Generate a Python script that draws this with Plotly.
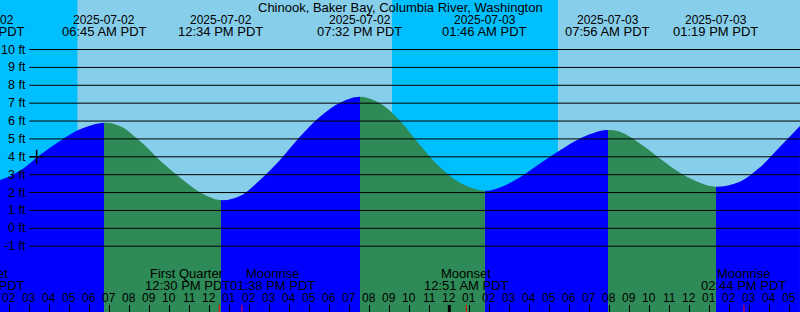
import pandas as pd
import plotly.graph_objects as go

TITLE = "Chinook, Baker Bay, Columbia River, Washington"

# Tide curve (time, feet)
curve_times = [
    "2025-07-02 00:41", "2025-07-02 01:32", "2025-07-02 02:32", "2025-07-02 03:32",
    "2025-07-02 04:32", "2025-07-02 05:32", "2025-07-02 06:45", "2025-07-02 07:32",
    "2025-07-02 08:32", "2025-07-02 09:32", "2025-07-02 10:32", "2025-07-02 11:32",
    "2025-07-02 12:34", "2025-07-02 13:32", "2025-07-02 14:32", "2025-07-02 15:32",
    "2025-07-02 16:32", "2025-07-02 17:32", "2025-07-02 18:32", "2025-07-02 19:32",
    "2025-07-02 20:32", "2025-07-02 21:32", "2025-07-02 22:32", "2025-07-02 23:32",
    "2025-07-03 00:32", "2025-07-03 01:46", "2025-07-03 02:32", "2025-07-03 03:32",
    "2025-07-03 04:32", "2025-07-03 05:32", "2025-07-03 06:32", "2025-07-03 07:32",
    "2025-07-03 07:56", "2025-07-03 08:32", "2025-07-03 09:32", "2025-07-03 10:32",
    "2025-07-03 11:32", "2025-07-03 12:32", "2025-07-03 13:19", "2025-07-03 14:32",
    "2025-07-03 15:32", "2025-07-03 16:32", "2025-07-03 17:32",
]
curve_levels = [
    2.55, 2.70, 3.22, 4.10,
    4.88, 5.54, 5.91, 5.72,
    4.88, 3.80, 2.84, 2.02,
    1.58, 1.81, 2.70, 3.82,
    5.12, 6.24, 7.02, 7.36,
    6.99, 6.02, 4.66, 3.41,
    2.55, 2.10, 2.29, 2.85,
    3.62, 4.36, 5.02, 5.44,
    5.50, 5.40, 4.75, 3.91,
    3.11, 2.55, 2.33, 2.61,
    3.41, 4.56, 5.72,
]

# Tide extremes (top labels)
tide_times = ["2025-07-02 00:41", "2025-07-02 06:45", "2025-07-02 12:34", "2025-07-02 19:32",
              "2025-07-03 01:46", "2025-07-03 07:56", "2025-07-03 13:19"]
tide_dates = ["2025-07-02", "2025-07-02", "2025-07-02", "2025-07-02",
              "2025-07-03", "2025-07-03", "2025-07-03"]
tide_clock = ["12:41 AM PDT", "06:45 AM PDT", "12:34 PM PDT", "07:32 PM PDT",
              "01:46 AM PDT", "07:56 AM PDT", "01:19 PM PDT"]

# Moon events (bottom labels)
moon_times = ["2025-07-02 00:41", "2025-07-02 12:30", "2025-07-02 13:38",
              "2025-07-03 00:51", "2025-07-03 14:44"]
moon_names = ["Moonset", "First Quarter", "Moonrise", "Moonset", "Moonrise"]
moon_clock = ["12:41 AM PDT", "12:30 PM PDT", "01:38 PM PDT", "12:51 AM PDT", "02:44 PM PDT"]
moon_shift = [0, -32, 31, 0, 0]  # label displacement (px) to avoid overlap

sunrise_times = ["2025-07-02 05:25", "2025-07-03 05:26"]
sunset_times = ["2025-07-02 21:08"]
midnight_times = ["2025-07-03 00:00"]

now_time = "2025-07-02 03:22"
now_level = 4.0

x_range = ["2025-07-02 01:32:06", "2025-07-03 17:32:06"]
y_range = [-4.68, 12.77]
grid_levels = [10, 9, 8, 7, 6, 5, 4, 3, 2, 1, 0, -1]
grid_labels = [f"{v} ft" for v in grid_levels]

DAY = "#87CEEB"
NIGHT = "#00BFFF"
RISING = "#0000FF"
FALLING = "#2E8B57"
FONT = "Liberation Sans"
H = 312.0

ct = list(pd.to_datetime(curve_times))
xr0, xr1 = pd.to_datetime(x_range)


def to_paper(t):
    return (pd.Timestamp(t) - xr0) / (xr1 - xr0)


def in_range(t):
    return xr0 <= pd.Timestamp(t) <= xr1


def py(ypix):
    return 1 - ypix / H


# horizontal colour steps (flood = blue, ebb = green) across the fill's x extent
t_first, t_last = ct[0], ct[-1]
ext_t = list(pd.to_datetime(tide_times))
ext_lv = [curve_levels[ct.index(t)] for t in ext_t]
seg_bounds = ext_t + [t_last]
cscale = []
eps = 1e-6
for i in range(len(seg_bounds) - 1):
    a, b = seg_bounds[i], seg_bounds[i + 1]
    lv_a = ext_lv[i]
    lv_b = ext_lv[i + 1] if i + 1 < len(ext_lv) else curve_levels[-1]
    col = RISING if lv_b > lv_a else FALLING
    fa = (a - t_first) / (t_last - t_first)
    fb = (b - t_first) / (t_last - t_first)
    if cscale:
        fa = max(fa, cscale[-1][0] + eps)
    cscale.append([min(fa, 1.0), col])
    cscale.append([min(max(fb - eps, fa), 1.0), col])
cscale[0][0] = 0.0
cscale[-1][0] = 1.0

fig = go.Figure()
fig.add_trace(go.Scatter(x=[t_first, t_last], y=[y_range[0], y_range[0]], mode="lines",
                         line=dict(width=0), hoverinfo="skip", showlegend=False))
fig.add_trace(go.Scatter(x=ct, y=curve_levels, mode="lines",
                         line=dict(width=0, shape="spline", smoothing=1.0),
                         fill="tonexty",
                         fillgradient=dict(type="horizontal", colorscale=cscale),
                         hoverinfo="skip", showlegend=False))

fig.add_trace(go.Scatter(x=[now_time], y=[now_level], mode="markers",
                         marker=dict(symbol="cross-thin", size=10, line=dict(width=1.5, color="black")),
                         showlegend=False, hoverinfo="skip"))

shapes = []
# day / night background
edges = [x_range[0]] + sorted(sunrise_times + sunset_times) + [x_range[1]]
night = True
for s, e in zip(edges[:-1], edges[1:]):
    shapes.append(dict(type="rect", xref="x", yref="paper", x0=s, x1=e, y0=0, y1=1,
                       fillcolor=NIGHT if night else DAY, line=dict(width=0), layer="below"))
    night = not night

# horizontal level lines
for v in grid_levels:
    shapes.append(dict(type="line", xref="paper", yref="y", x0=29.3 / 800, x1=1, y0=v, y1=v,
                       line=dict(color="black", width=1), layer="above"))

# midnight and moon-event ticks
for t in midnight_times:
    shapes.append(dict(type="line", xref="x", yref="paper", x0=t, x1=t, y0=0, y1=7 / H,
                       line=dict(color="black", width=3), layer="above"))
for t in moon_times:
    if in_range(t):
        shapes.append(dict(type="line", xref="x", yref="paper", x0=t, x1=t, y0=0, y1=7 / H,
                           line=dict(color="red", width=1), layer="above"))

ann = []


def label(t, yc, text, size, shift=0):
    if in_range(t):
        d = dict(x=t, xref="x")
    else:
        d = dict(x=to_paper(t), xref="paper")
    d.update(yref="paper", y=py(yc), text=text, showarrow=False, xanchor="center",
             yanchor="middle", xshift=shift, font=dict(family=FONT, size=size, color="black"))
    ann.append(d)


ann.append(dict(x=0.5, xref="paper", y=py(7.5), yref="paper", text=TITLE, showarrow=False,
                xanchor="center", yanchor="middle", font=dict(family=FONT, size=13, color="black")))
for t, d, c in zip(tide_times, tide_dates, tide_clock):
    label(t, 19.5, d, 12)
    label(t, 31.5, c, 13)
for t, n, c, s in zip(moon_times, moon_names, moon_clock, moon_shift):
    label(t, 273.5, n, 13, s)
    label(t, 285.7, c, 13, s)

hours = pd.date_range(pd.Timestamp(x_range[0]).ceil("h"), pd.Timestamp(x_range[1]).floor("h"), freq="h")
for h in hours:
    ann.append(dict(x=h, xref="x", y=py(297.5), yref="paper", text=h.strftime("%I"), showarrow=False,
                    xanchor="center", yanchor="middle", font=dict(family=FONT, size=12, color="black")))

for v, lab in zip(grid_levels, grid_labels):
    ann.append(dict(x=27.5 / 800, xref="paper", y=v, yref="y", text=lab, showarrow=False,
                    xanchor="right", yanchor="middle", font=dict(family=FONT, size=12.5, color="black")))

fig.update_layout(
    width=800, height=312, margin=dict(l=0, r=0, t=0, b=0),
    paper_bgcolor=DAY, plot_bgcolor=DAY,
    shapes=shapes, annotations=ann, showlegend=False,
    xaxis=dict(type="date", range=x_range, showgrid=False, zeroline=False, showline=False,
               showticklabels=False, ticks="inside", ticklen=7, tickwidth=1, tickcolor="black",
               tick0="2025-07-02 00:00", dtick=3600000, fixedrange=True),
    yaxis=dict(range=y_range, showgrid=False, zeroline=False, showline=False,
               showticklabels=False, ticks="", fixedrange=True),
)

fig.write_html("out.html")
